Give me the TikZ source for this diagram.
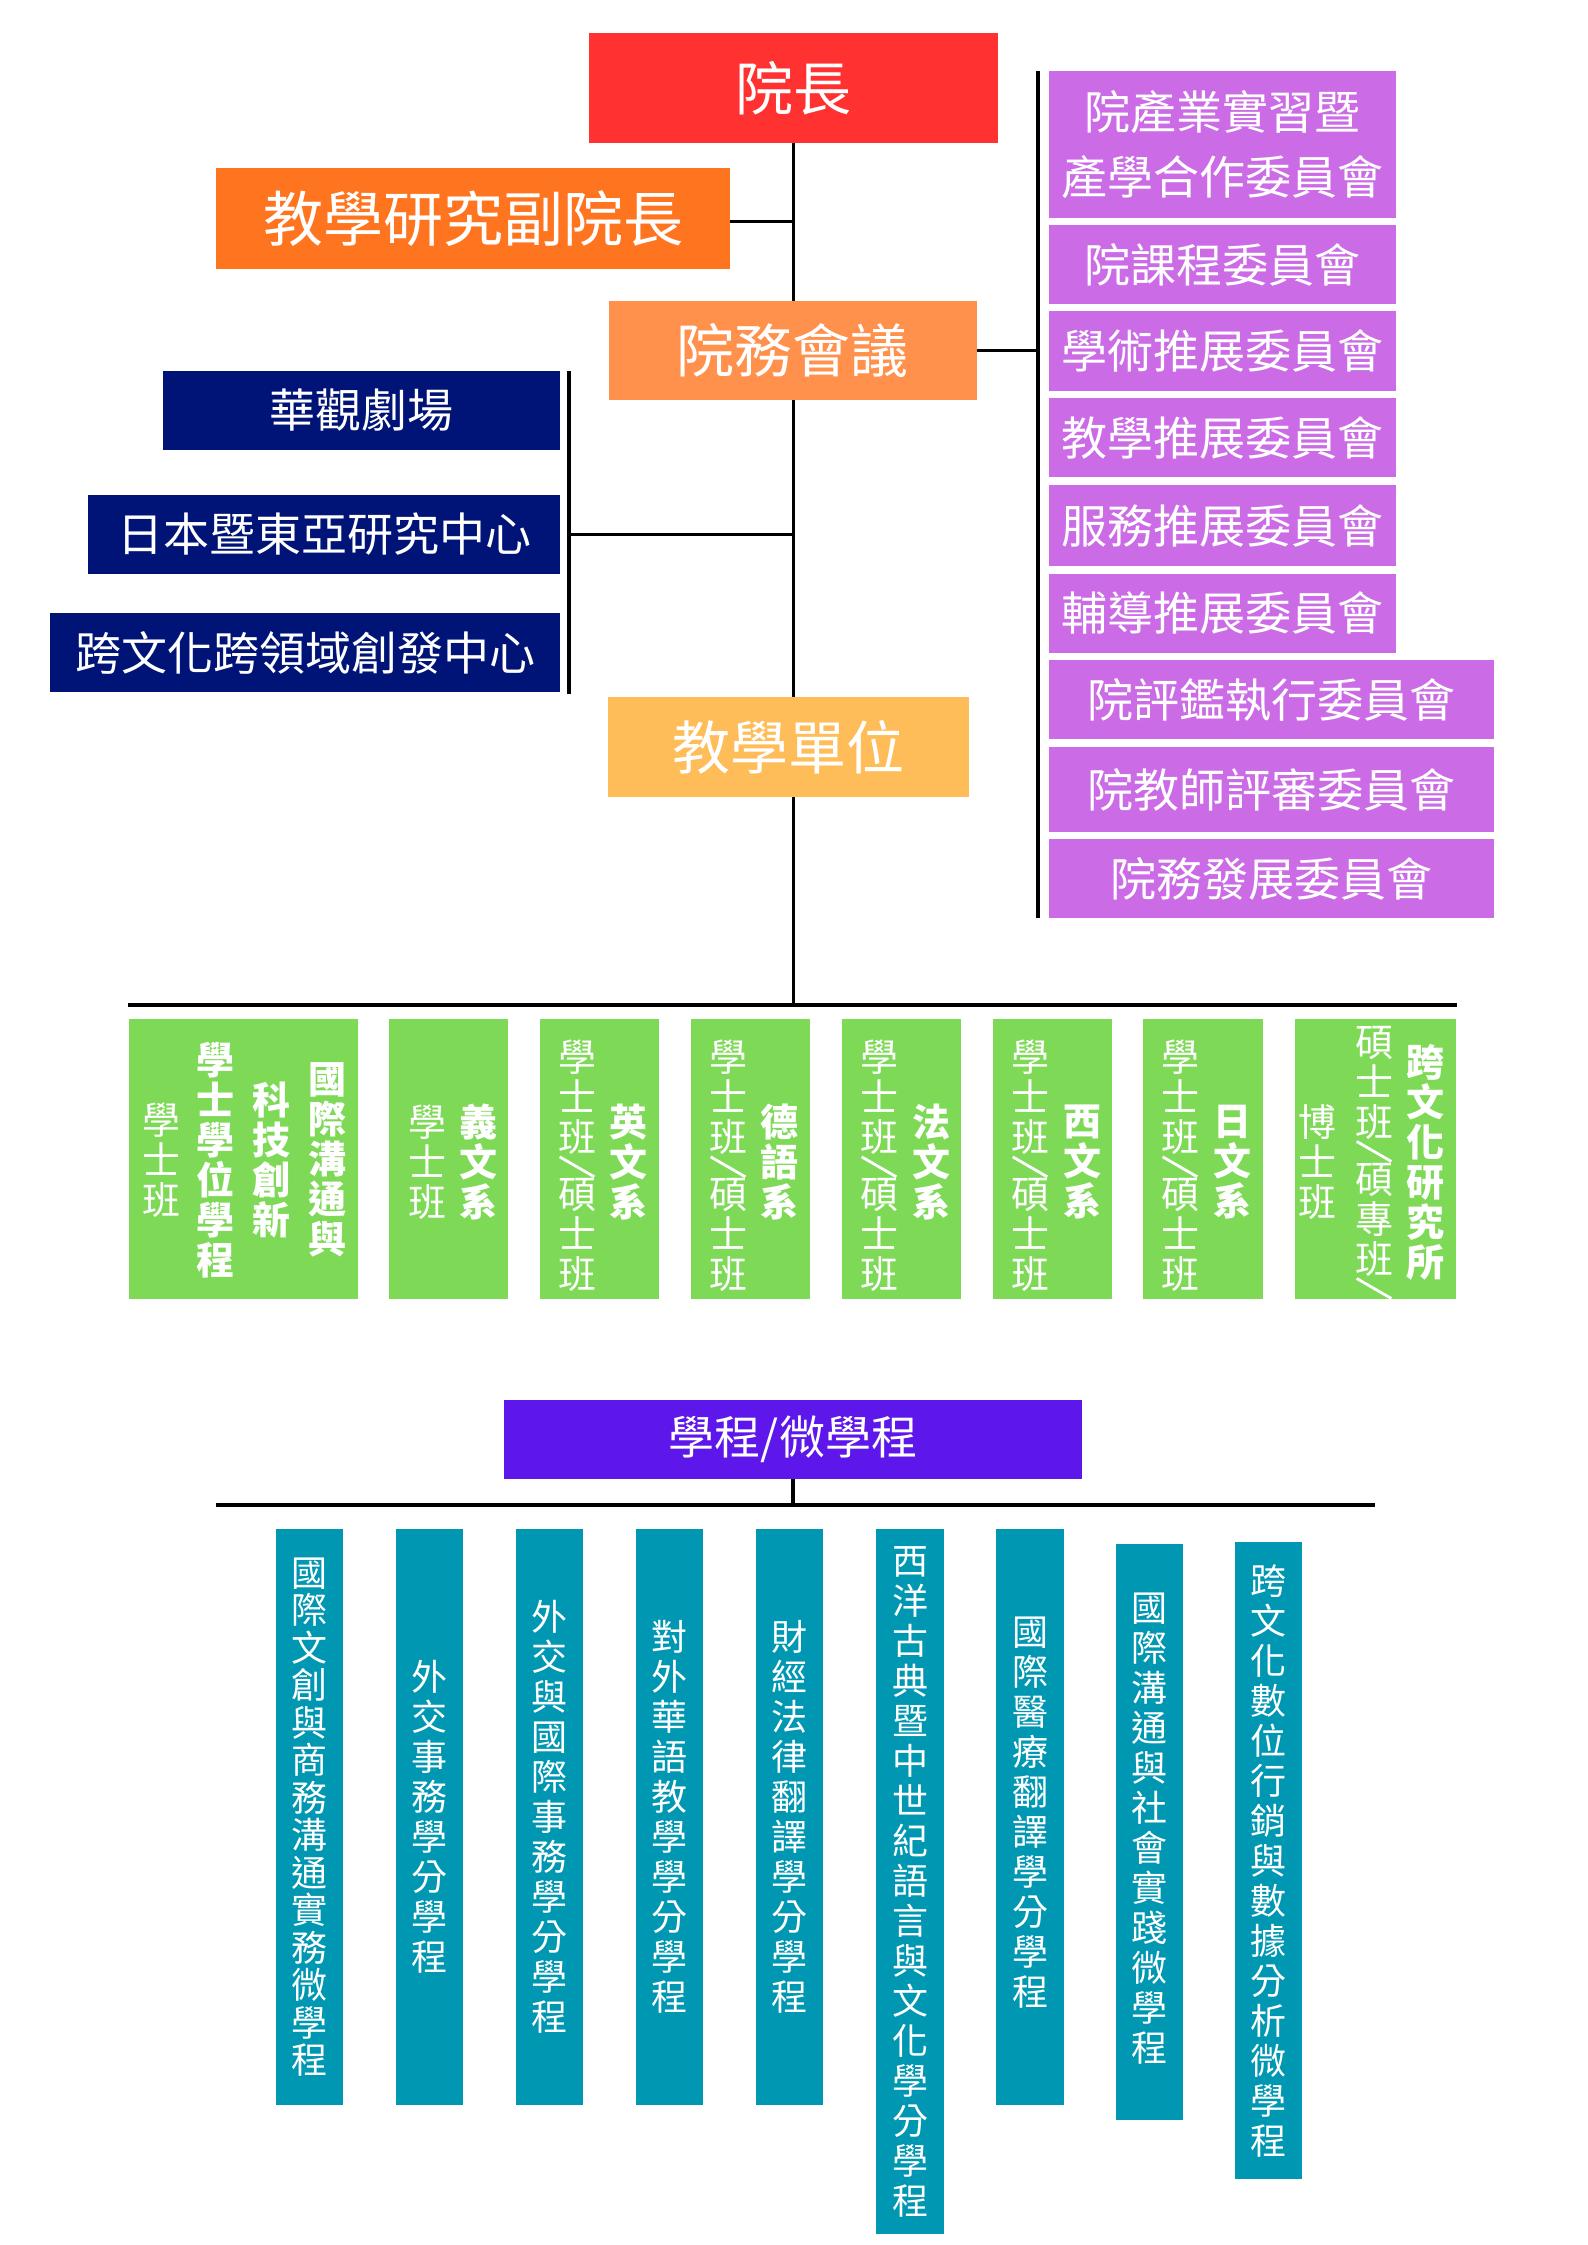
\documentclass[tikz,border=0pt]{standalone}
\usepackage{fontspec}
\usepackage{graphicx}
\newfontfamily\cjk{Noto Sans CJK TC}
\definecolor{cDean}{HTML}{FF3131}
\definecolor{cVice}{HTML}{FF751F}
\definecolor{cCouncil}{HTML}{FF914D}
\definecolor{cTeach}{HTML}{FFBD59}
\definecolor{cComm}{HTML}{CB6CE6}
\definecolor{cNavy}{HTML}{001478}
\definecolor{cGreen}{HTML}{7ED957}
\definecolor{cProg}{HTML}{5E17EB}
\definecolor{cTeal}{HTML}{0097B2}
\newcommand\vsl{\raisebox{12pt}{\rotatebox[origin=c]{-30}{\rule{40pt}{2.8pt}}}}
\tikzset{
  box/.style={fill=#1, draw=none, inner sep=0pt, text=white, anchor=center},
  sz/.style 2 args={minimum width=#1pt, minimum height=#2pt},
  big/.style={font=\cjk\fontsize{58}{58}\selectfont},
  mid/.style={font=\cjk\fontsize{46}{46}\selectfont},
  two/.style={align=center, font=\cjk\fontsize{46}{65}\selectfont},
  vcol/.style={align=center, inner sep=0pt, text=white, font=\cjk\fontsize{38}{40}\selectfont},
  vcolb/.style={align=center, inner sep=0pt, text=white, font=\cjk\bfseries\fontsize{38}{40}\selectfont},
  tcol/.style={align=center, inner sep=0pt, text=white, font=\cjk\fontsize{36}{40}\selectfont},
  tcolt/.style={align=center, inner sep=0pt, text=white, font=\cjk\fontsize{36}{37.5}\selectfont},
  conn/.style={draw=black, line width=3.5pt},
}
\begin{document}
\begin{tikzpicture}[x=1pt, y=-1pt]
\fill[white] (0,0) rectangle (1587,2245);
\useasboundingbox (0,0) rectangle (1587,2245);

% top level
\node[box=cDean, sz={409}{110}, big] (dean) at (793.5,88) {院長};
\node[box=cVice, sz={514}{101}, font=\cjk\fontsize{60}{60}\selectfont] (vice) at (473,218.5) {教學研究副院長};
\node[box=cCouncil, sz={368}{99}, big] (council) at (792.5,350.5) {院務會議};
\node[box=cTeach, sz={361}{100}, big] (teach) at (788.5,747) {教學單位};

% committees
\node[box=cComm, sz={347}{147}, two] (p1) at (1222.5,144.5) {院產業實習暨\\產學合作委員會};
\node[box=cComm, sz={347}{79}, mid] (p2) at (1222.5,264.5) {院課程委員會};
\node[box=cComm, sz={347}{80}, mid] (p3) at (1222.5,351) {學術推展委員會};
\node[box=cComm, sz={347}{79}, mid] (p4) at (1222.5,437.5) {教學推展委員會};
\node[box=cComm, sz={347}{81}, mid] (p5) at (1222.5,525.5) {服務推展委員會};
\node[box=cComm, sz={347}{79}, mid] (p6) at (1222.5,613) {輔導推展委員會};
\node[box=cComm, sz={445}{79}, mid] (p7) at (1271.5,699.5) {院評鑑執行委員會};
\node[box=cComm, sz={445}{85}, mid] (p8) at (1271.5,789.5) {院教師評審委員會};
\node[box=cComm, sz={445}{79}, mid] (p9) at (1271.5,878.5) {院務發展委員會};

% centres
\node[box=cNavy, sz={397}{79}, mid] (n1) at (361.5,410.5) {華觀劇場};
\node[box=cNavy, sz={472}{79}, mid] (n2) at (324,534.5) {日本暨東亞研究中心};
\node[box=cNavy, sz={510}{79}, mid] (n3) at (305,652.5) {跨文化跨領域創發中心};

% bracket coordinates
\coordinate (rbT) at (1038,71);
\coordinate (rbB) at (1038,918);
\coordinate (lbT) at (569,371);
\coordinate (lbB) at (569,694);
\coordinate (barL) at (128,1005);
\coordinate (barR) at (1457,1005);
\coordinate (bar2L) at (216,1505);
\coordinate (bar2R) at (1375,1505);

% connectors
\draw[conn] (dean.south) -- (council.north -| dean.south);
\draw[conn] (council.south -| dean.south) -- (teach.north -| dean.south);
\draw[conn] (teach.south -| dean.south) -- (barL -| dean.south);
\draw[conn] ([yshift=-3pt]vice.east) -- ([yshift=-3pt]vice.east -| dean.south);
\draw[conn] (council.east) -- (council.east -| rbT);
\draw[conn] (rbT) -- (rbB);
\draw[conn] (lbT) -- (lbB);
\draw[conn] (lbT |- n2.east) -- (n2.east -| dean.south);
\draw[conn] (barL) -- (barR);

% departments
\node[box=cGreen, sz={229}{280}] (g1) at (243.5,1159) {};
\node[box=cGreen, sz={119}{280}] (g2) at (448.5,1159) {};
\node[box=cGreen, sz={119}{280}] (g3) at (599.5,1159) {};
\node[box=cGreen, sz={119}{280}] (g4) at (750.5,1159) {};
\node[box=cGreen, sz={119}{280}] (g5) at (901.5,1159) {};
\node[box=cGreen, sz={119}{280}] (g6) at (1052.5,1159) {};
\node[box=cGreen, sz={120}{280}] (g7) at (1203,1159) {};
\node[box=cGreen, sz={161}{280}] (g8) at (1375.5,1159) {};

\node[vcolb] (g1a) at (327,1160) {國\\際\\溝\\通\\與};
\node[vcolb] (g1b) at (271,1160) {科\\技\\創\\新};
\node[vcolb] (g1c) at (215,1160) {學\\士\\學\\位\\學\\程};
\node[vcol]  (g1d) at (161,1160) {學\\士\\班};

\node[vcolb] (g2a) at (478,1162) {義\\文\\系};
\node[vcol]  (g2b) at (427,1162) {學\\士\\班};

\node[vcolb] (g3a) at (628,1162) {英\\文\\系};
\node[vcol]  (g3b) at (577,1166) {學\\士\\班\\[-11.5pt]\vsl\\[-11.5pt]碩\\士\\班};
\node[vcolb] (g4a) at (779,1162) {德\\語\\系};
\node[vcol]  (g4b) at (728,1166) {學\\士\\班\\[-11.5pt]\vsl\\[-11.5pt]碩\\士\\班};
\node[vcolb] (g5a) at (931,1162) {法\\文\\系};
\node[vcol]  (g5b) at (879,1166) {學\\士\\班\\[-11.5pt]\vsl\\[-11.5pt]碩\\士\\班};
\node[vcolb] (g6a) at (1082,1162) {西\\文\\系};
\node[vcol]  (g6b) at (1030,1166) {學\\士\\班\\[-11.5pt]\vsl\\[-11.5pt]碩\\士\\班};
\node[vcolb] (g7a) at (1232,1162) {日\\文\\系};
\node[vcol]  (g7b) at (1180,1166) {學\\士\\班\\[-11.5pt]\vsl\\[-11.5pt]碩\\士\\班};

\node[vcolb] (g8a) at (1425,1162) {跨\\文\\化\\研\\究\\所};
\node[vcol]  (g8b) at (1374,1164) {碩\\士\\班\\[-11.5pt]\vsl\\[-11.5pt]碩\\專\\班\\[-11.5pt]\vsl};
\node[vcol]  (g8c) at (1317,1162) {博\\士\\班};

% programmes
\node[box=cProg, sz={578}{79}, mid] (prog) at (793,1439.5) {學程/微學程};
\draw[conn] (prog.south) -- (prog.south |- bar2L);
\draw[conn] (bar2L) -- (bar2R);

\node[box=cTeal, sz={67}{576}] (t1) at (309.5,1817) {};
\node[box=cTeal, sz={67}{576}] (t2) at (429.5,1817) {};
\node[box=cTeal, sz={67}{576}] (t3) at (549.5,1817) {};
\node[box=cTeal, sz={67}{576}] (t4) at (669.5,1817) {};
\node[box=cTeal, sz={67}{576}] (t5) at (789.5,1817) {};
\node[box=cTeal, sz={68}{705}] (t6) at (910,1881.5) {};
\node[box=cTeal, sz={68}{576}] (t7) at (1030,1817) {};
\node[box=cTeal, sz={67}{576}] (t8) at (1149.5,1832) {};
\node[box=cTeal, sz={67}{637}] (t9) at (1268.5,1860.5) {};

\node[tcolt] (t1x) at (t1.center) {國\\際\\文\\創\\與\\商\\務\\溝\\通\\實\\務\\微\\學\\程};
\node[tcol] (t2x) at (t2.center) {外\\交\\事\\務\\學\\分\\學\\程};
\node[tcol] (t3x) at (t3.center) {外\\交\\與\\國\\際\\事\\務\\學\\分\\學\\程};
\node[tcol] (t4x) at (t4.center) {對\\外\\華\\語\\教\\學\\學\\分\\學\\程};
\node[tcol] (t5x) at (t5.center) {財\\經\\法\\律\\翻\\譯\\學\\分\\學\\程};
\node[tcol] (t6x) at (t6.center) {西\\洋\\古\\典\\暨\\中\\世\\紀\\語\\言\\與\\文\\化\\學\\分\\學\\程};
\node[tcol] (t7x) at ([yshift=4pt]t7.center) {國\\際\\醫\\療\\翻\\譯\\學\\分\\學\\程};
\node[tcol] (t8x) at ([yshift=3pt]t8.center) {國\\際\\溝\\通\\與\\社\\會\\實\\踐\\微\\學\\程};
\node[tcol] (t9x) at (t9.center) {跨\\文\\化\\數\\位\\行\\銷\\與\\數\\據\\分\\析\\微\\學\\程};
\end{tikzpicture}
\end{document}
